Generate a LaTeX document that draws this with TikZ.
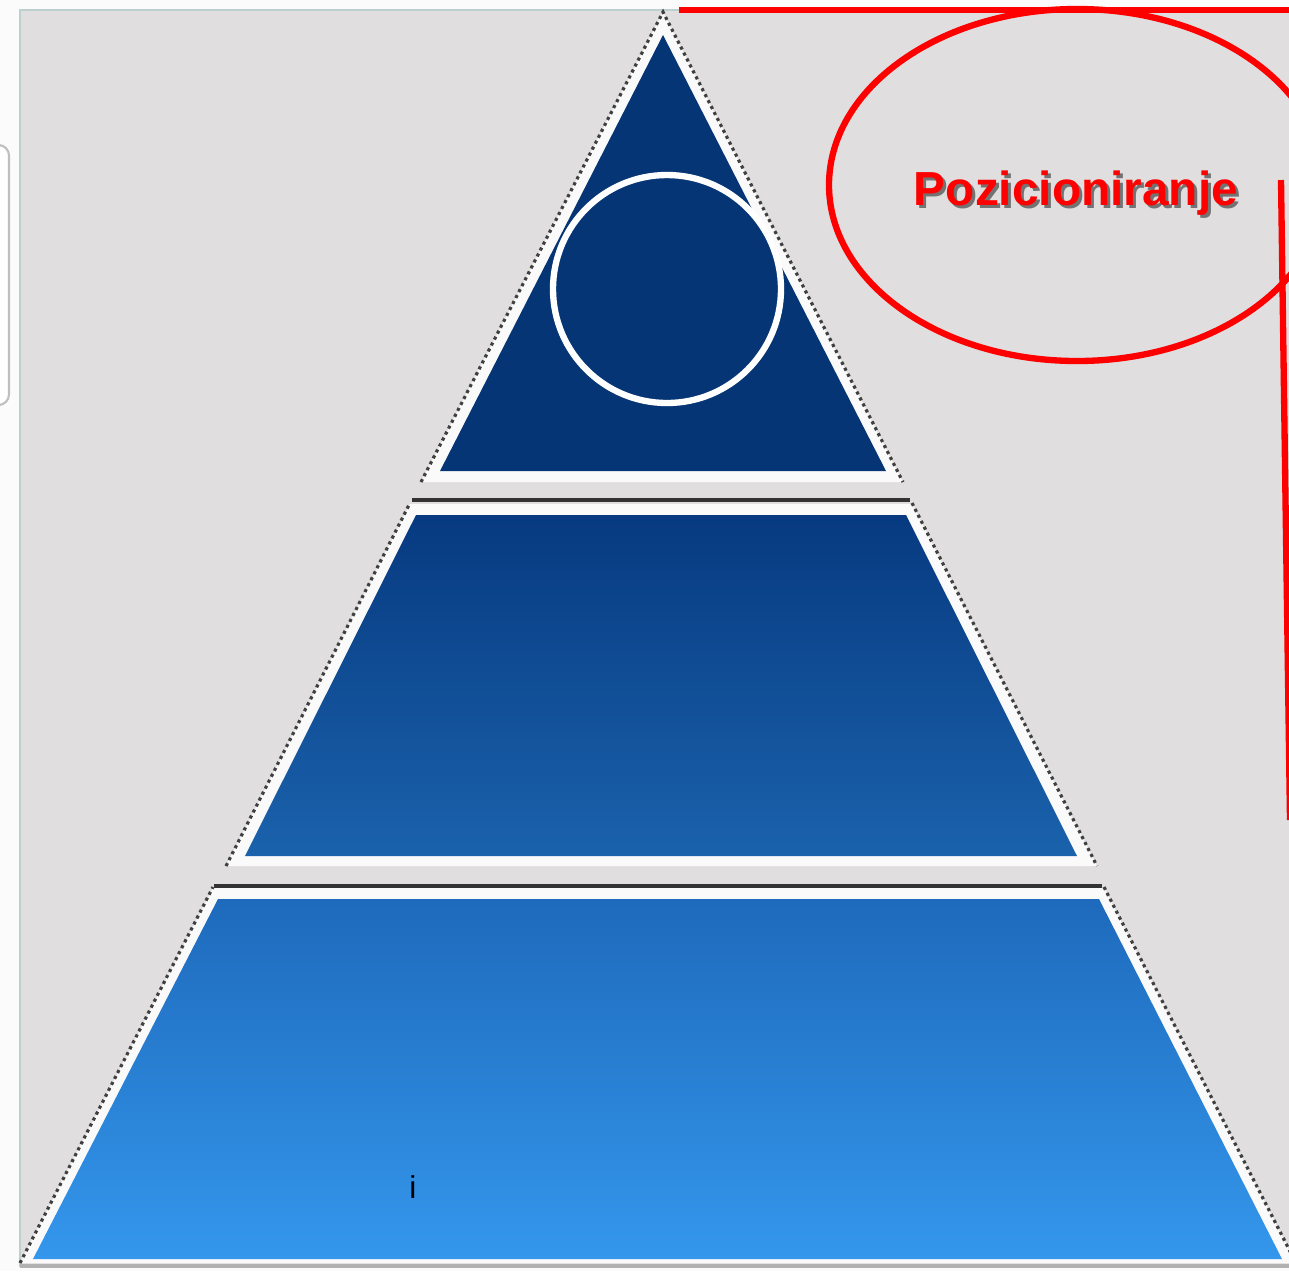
\documentclass[tikz,border=0pt]{standalone}
\usepackage{fontspec}
\setmainfont{Liberation Sans}
\usepackage{xcolor}
\usetikzlibrary{positioning}
\definecolor{panelgray}{RGB}{224,222,223}
\definecolor{panelrim}{RGB}{190,208,206}
\definecolor{navy}{RGB}{5,53,117}
\definecolor{midtop}{RGB}{7,58,128}
\definecolor{midbot}{RGB}{26,98,172}
\definecolor{lowtop}{RGB}{30,106,188}
\definecolor{lowbot}{RGB}{52,151,236}
\definecolor{markred}{RGB}{255,0,0}
\tikzstyle{rim} = [fill=white!96!gray]
\tikzstyle{edge} = [densely dotted, line width=0.9pt, black!75]
\tikzstyle{sep} = [line width=0.9pt, black!80]
\tikzstyle{redpen} = [markred, line width=1.8pt]

\begin{document}
\begin{tikzpicture}[x=0.1mm, y=-0.1mm]
                        \useasboundingbox (0,0) rectangle (1289,1271);
                        \fill [white!97!gray] (0,0) rectangle (1289,1271);
                        \draw [gray!50, fill=white, rounded corners=3, line width=0.6pt] (-10,145) rectangle (9,405);
                        \draw [panelrim, fill=panelgray, line width=0.6pt] (20,10) rectangle (1295,1266);
                        \draw [gray!60, line width=1pt] (20,1266) -- (1289,1266);
                        \fill [rim] (663,12) -- (903,482) -- (421,482) -- cycle;
                        \fill [navy] (663,35) -- (886,471) -- (440,471) -- cycle;
                        \fill [rim] (410,504) -- (912,504) -- (1097,866) -- (226,866) -- cycle;
                        \shade [top color=midtop, bottom color=midbot] (416,515) -- (906,515) -- (1077,856) -- (245,856) -- cycle;
                        \fill [rim] (213,888) -- (1104,888) -- (1296,1263) -- (20,1263) -- cycle;
                        \shade [top color=lowtop, bottom color=lowbot] (218,899) -- (1099,899) -- (1282,1259) -- (33,1259) -- cycle;
                        \draw [edge] (421,482) -- (663,12) -- (903,482);
                        \draw [edge] (226,866) -- (410,503) (912,503) -- (1097,866);
                        \draw [edge] (20,1263) -- (213,887) (1104,887) -- (1296,1263);
                        \draw [sep] (412,500) -- (910,500);
                        \draw [sep] (214,886) -- (1102,886);
                        \draw [white, line width=1.8pt] (667,289) circle [radius=114];
                        \draw [redpen] (1077,185) ellipse [x radius=248, y radius=176];
                        \coordinate (topstart) at (679,10);
                        \coordinate (topend) at (1289,10);
                        \coordinate (sidestart) at (1281,180);
                        \coordinate (sideend) at (1290,820);
                        \draw [redpen] (topstart) -- (topend);
                        \draw [redpen] (sidestart) -- (sideend);
                        \node (shadow) [anchor=base, black!55, font=\fontsize{13.6}{16}\selectfont\bfseries] at (1079,208) {Pozicioniranje};
                        \node (title) [anchor=base, markred, font=\fontsize{13.6}{16}\selectfont\bfseries] at (1076,205) {Pozicioniranje};
                        \node (mark) [anchor=base, black, font=\fontsize{9}{11}\selectfont] at (413,1198) {i};
                    \end{tikzpicture}
\end{document}
